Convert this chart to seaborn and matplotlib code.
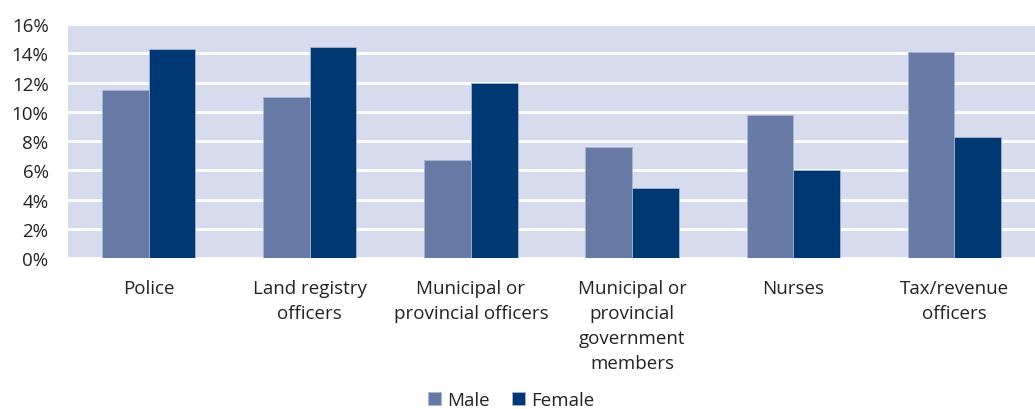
import pandas as pd
import numpy as np
import matplotlib
matplotlib.use('Agg')
import matplotlib.pyplot as plt
import seaborn as sns
from matplotlib.ticker import FuncFormatter

sns.set_style('white')
plt.rcParams['font.family'] = ['Open Sans', 'DejaVu Sans']

# Data
categories = ['Police', 'Land registry\nofficers', 'Municipal or\nprovincial officers',
              'Municipal or\nprovincial\ngovernment\nmembers', 'Nurses', 'Tax/revenue\nofficers']
male = [11.5, 11.0, 6.7, 7.6, 9.8, 14.1]
female = [14.3, 14.4, 12.0, 4.8, 6.0, 8.3]
series = ['Male', 'Female']
colors = {'Male': '#6779A5', 'Female': '#003873'}

df = pd.DataFrame({
    'category': categories * 2,
    'value': male + female,
    'sex': ['Male'] * len(categories) + ['Female'] * len(categories),
})

fig = plt.figure(figsize=(10.35, 4.1), dpi=100)
ax = fig.add_axes([0.0657, 0.368, 0.9343, 0.571])
ax.set_facecolor('#D6DCEE')

sns.barplot(data=df, x='category', y='value', hue='sex', hue_order=series,
            palette=colors, saturation=1, width=0.58, gap=0, ax=ax,
            edgecolor='#A9B4D2', linewidth=0.6, legend=True, zorder=3)

ax.set_ylim(0, 16)
ax.set_xlim(-0.5, len(categories) - 0.5)
ax.set_yticks(np.arange(0, 17, 2))
ax.yaxis.set_major_formatter(FuncFormatter(lambda v, p: f'{v:.0f}%'))
ax.yaxis.grid(True, color='white', linewidth=2, zorder=1)
ax.set_axisbelow(True)
for s in ax.spines.values():
    s.set_visible(False)
ax.set_xlabel('')
ax.set_ylabel('')
ax.tick_params(axis='y', length=0, pad=14, labelsize=13.5, labelcolor='#222222')
ax.tick_params(axis='x', length=0, pad=15)
ax.set_xticks(range(len(categories)))
ax.set_xticklabels(categories, fontsize=13.5, color='#222222', linespacing=1.5, va='top')

ax.legend(loc='center', bbox_to_anchor=(0.494, 0.022), bbox_transform=fig.transFigure,
          ncol=2, frameon=False, fontsize=13.5, handlelength=0.7, handleheight=0.7,
          handletextpad=0.3, columnspacing=1.2, borderaxespad=0)
for t in ax.get_legend().get_texts():
    t.set_color('#222222')

fig.savefig('out.png', dpi=100)
